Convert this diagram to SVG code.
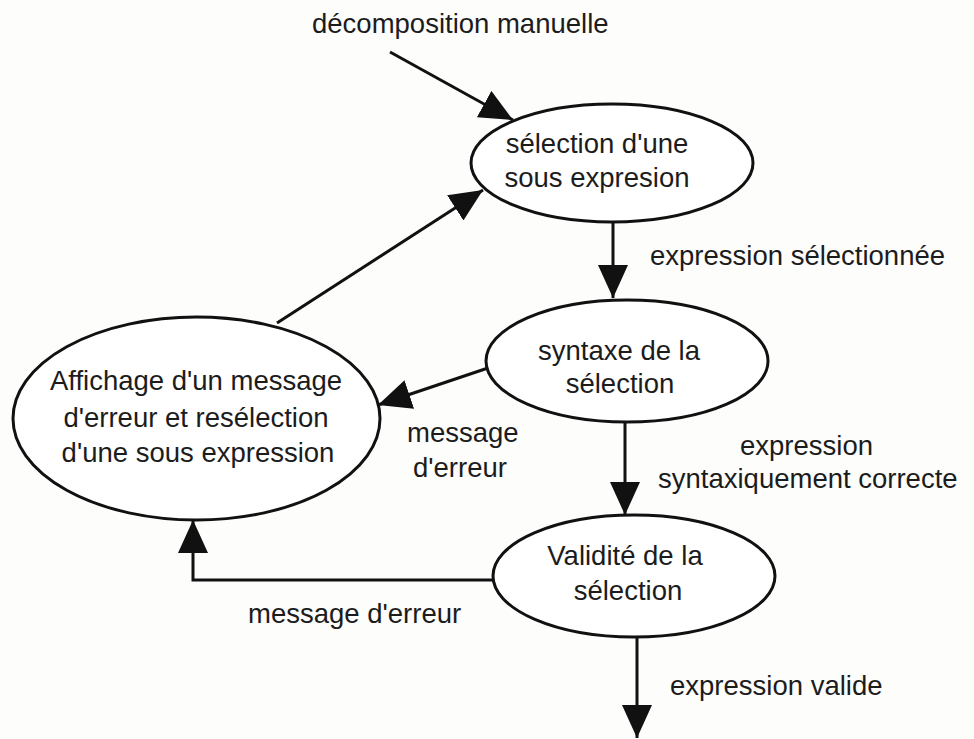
<svg xmlns="http://www.w3.org/2000/svg" width="974" height="739" viewBox="0 0 974 739">
  <defs>
    <marker id="arrow" markerUnits="userSpaceOnUse" markerWidth="34" markerHeight="30" refX="33" refY="15" orient="auto">
      <path d="M0,0 L33,15 L0,30 Z" fill="#111"/>
    </marker>
    <style>
      .node ellipse { fill: #fff; stroke: #111; stroke-width: 3; }
      .lbl { font-family: "Liberation Sans", Arial, sans-serif; font-size: 27.5px; fill: #1c1c1c; }
      .mid { text-anchor: middle; }
      .edge { fill: none; stroke: #111; stroke-width: 3; marker-end: url(#arrow); }
    </style>
  </defs>

  <rect width="974" height="739" fill="#fdfdfc"/>

  <!-- connectors -->
  <g id="connectors">
    <line class="edge" x1="390" y1="52" x2="513" y2="120"/>
    <line class="edge" x1="277" y1="323" x2="483" y2="190"/>
    <line class="edge" x1="613" y1="222" x2="613" y2="298"/>
    <line class="edge" x1="488" y1="368" x2="378" y2="405"/>
    <line class="edge" x1="625" y1="422" x2="625" y2="515"/>
    <path class="edge" d="M493,580 H193 V520"/>
    <line class="edge" x1="637" y1="637" x2="637" y2="738"/>
  </g>

  <!-- connector labels -->
  <g id="edge-labels">
    <text class="lbl" x="312" y="33">décomposition manuelle</text>
    <text class="lbl" x="650" y="265">expression sélectionnée</text>
    <text class="lbl" x="407" y="442">message</text>
    <text class="lbl" x="413" y="477">d'erreur</text>
    <text class="lbl" x="740" y="455">expression</text>
    <text class="lbl" x="658" y="488">syntaxiquement correcte</text>
    <text class="lbl" x="248" y="623">message d'erreur</text>
    <text class="lbl" x="670" y="695">expression valide</text>
  </g>

  <!-- nodes -->
  <g id="selection" class="node">
    <ellipse cx="612" cy="163" rx="141" ry="59"/>
    <text class="lbl mid" x="597" y="153">sélection d'une</text>
    <text class="lbl mid" x="597" y="187">sous expresion</text>
  </g>

  <g id="syntaxe" class="node">
    <ellipse cx="627" cy="361" rx="141" ry="61"/>
    <text class="lbl mid" x="619" y="360">syntaxe de la</text>
    <text class="lbl mid" x="620" y="393">sélection</text>
  </g>

  <g id="affichage" class="node">
    <ellipse cx="196.5" cy="418.5" rx="183.5" ry="101.5"/>
    <text class="lbl mid" x="196" y="390">Affichage d'un message</text>
    <text class="lbl mid" x="196" y="427">d'erreur et resélection</text>
    <text class="lbl mid" x="198" y="462">d'une sous expression</text>
  </g>

  <g id="validite" class="node">
    <ellipse cx="634" cy="576" rx="141" ry="61"/>
    <text class="lbl mid" x="625" y="565">Validité de la</text>
    <text class="lbl mid" x="628" y="600">sélection</text>
  </g>
</svg>
